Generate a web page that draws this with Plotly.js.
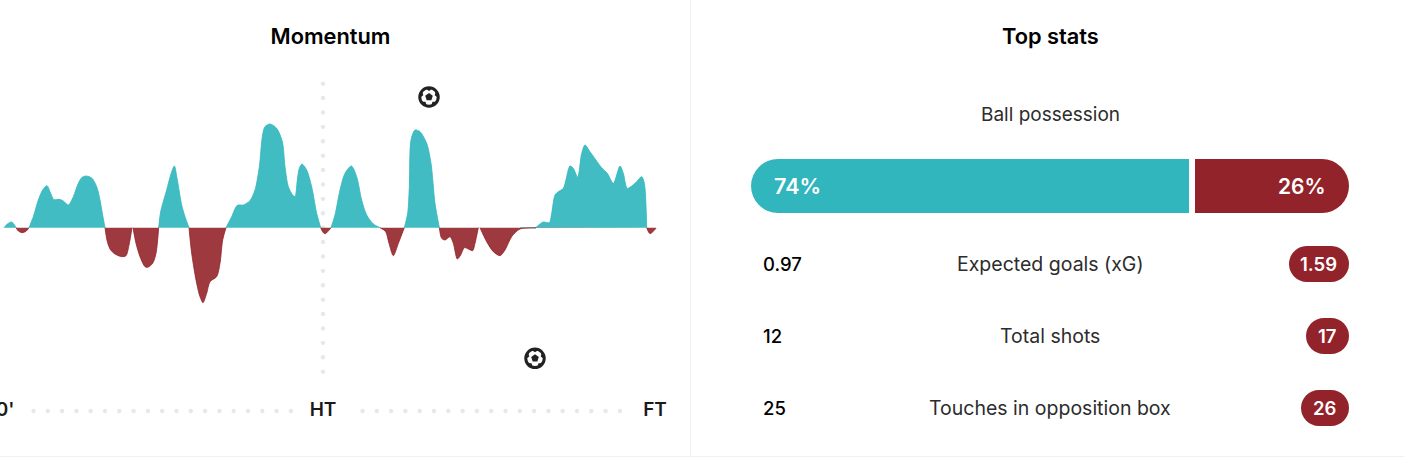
<!DOCTYPE html>
<html><head><meta charset="utf-8">
<script src="https://cdn.plot.ly/plotly-3.0.1.min.js"></script>
<style>html,body{margin:0;padding:0;background:#fff;overflow:hidden}#chart{width:1404px;height:466px}</style>
</head><body><div id="chart"></div>
<script>
// Momentum: timeline position (x) and momentum value (y)
const homeX = [12,22,35,42,48,null,87,100,115,128,141,150,162,178,190,205,220,235,245,258,275,290,300,307,315,null,476,482,500,512,523,532,545,555,567,null,678,695,712,730,750,765,778,787,795,810,830,847,855,865,878,885,892,898,906,920,935,950,962,null,993,1005,1020,1035,1054,1070,1085,1100,1120,1140,null,1213,1223,1228,1233,1245,1260,1280,1293,1305,1318,null,1560,1608,1615,1630,1648,1655,1665,1675,1690,1710,1720,1733,1745,1755,1770,1805,1822,1840,1860,1870,1882,1905,1925,1933,1940];
const homeY = [0,11,17,10,0,null,0,33,83,113,126,108,84,85,80,68,93,133,150,155,149,123,83,43,0,null,0,48,113,158,185,143,68,33,0,null,0,33,67,68,81,113,183,273,303,311,298,258,183,123,98,93,143,178,191,173,123,43,0,null,0,38,113,163,185,153,83,38,11,0,null,0,43,123,263,293,288,253,193,73,0,null,0,1,7,17,15,43,98,108,118,185,178,151,223,248,228,180,163,133,185,163,118,133,153,133,0];
const awayX = [48,55,66,78,87,null,315,322,332,345,365,378,387,396,null,399,408,420,435,443,458,468,476,null,567,575,590,600,609,620,630,650,660,668,678,null,962,970,976,990,993,null,1140,1157,1167,1180,1195,1213,null,1318,1325,1335,1350,1360,1372,1382,1393,1405,1418,1425,1435,null,1440,1460,1480,1500,1515,1535,1560,1608,null,1940,1950,1968];
const awayY = [0,-10,-15,-11,0,null,0,-42,-67,-79,-87,-84,-52,0,null,0,-47,-87,-117,-119,-107,-77,0,null,0,-77,-167,-207,-225,-197,-162,-147,-107,-37,0,null,0,-15,-18,-4,0,null,0,-12,-47,-84,-47,0,null,0,-32,-37,-27,-47,-94,-82,-60,-64,-69,-47,0,null,0,-42,-72,-84,-67,-27,-4,-1,null,0,-18,-2];
const goalX = [1287,1605];
const goalY = [392,-392];
const timeTicks = [15,969,1965];
const timeLabels = ["0'","HT","FT"];
// Top stats
const possession = [74,26];
const statLabels = ["Expected goals (xG)","Total shots","Touches in opposition box"];
const homeStats = ["0.97","12","25"];
const awayStats = ["1.59","17","26"];

const W=1404,H=466,TEAL='#31b6bd',RED='#93232a',FONT='Inter, Lato, sans-serif',INK='#1a1a1a';
const px=x=>x/W, py=y=>1-y/H;
const fmtP=(x,y)=>px(x).toFixed(5)+','+py(y).toFixed(5);
function pill(x0,x1,y0,y1){const r=(y1-y0)/2,k=r*.5523;return 'M'+fmtP(x0+r,y0)+' L'+fmtP(x1-r,y0)+' C'+fmtP(x1-r+k,y0)+' '+fmtP(x1,y0+r-k)+' '+fmtP(x1,y0+r)+' C'+fmtP(x1,y0+r+k)+' '+fmtP(x1-r+k,y1)+' '+fmtP(x1-r,y1)+' L'+fmtP(x0+r,y1)+' C'+fmtP(x0+r-k,y1)+' '+fmtP(x0,y0+r+k)+' '+fmtP(x0,y0+r)+' C'+fmtP(x0,y0+r-k)+' '+fmtP(x0+r-k,y0)+' '+fmtP(x0+r,y0)+' Z';}

// decoration dots along the time axis and at half-time
const dotY=[];for(let i=-10;i<=10;i++)dotY.push(i*43.2);
const dotX=[];
for(let i=0;i<19;i++)dotX.push(100.5+i*42.9);
for(let i=0;i<19;i++)dotX.push(1087.5+i*42.9);

const traces=[
 {x:dotY.map(()=>timeTicks[1]),y:dotY,mode:'markers',marker:{size:4.4,color:'#e8e8e8'},hoverinfo:'skip'},
 {x:dotX,y:dotX.map(()=>-550),mode:'markers',marker:{size:4.4,color:'#e8e8e8'},hoverinfo:'skip'},
 {x:homeX,y:homeY,mode:'lines',fill:'tozeroy',fillcolor:'rgba(49,182,189,0.92)',line:{color:TEAL,width:.8,shape:'spline',smoothing:.8},hoverinfo:'skip'},
 {x:awayX,y:awayY,mode:'lines',fill:'tozeroy',fillcolor:'rgba(147,35,42,0.9)',line:{color:RED,width:.8,shape:'spline',smoothing:.8},hoverinfo:'skip'},
 {x:goalX,y:goalY,mode:'markers',marker:{size:18.5,color:'#fff',line:{color:'#222',width:3}},hoverinfo:'skip'},
 {x:goalX,y:goalY,mode:'markers',marker:{symbol:'pentagon',size:8,color:'#222'},hoverinfo:'skip'},
 {type:'bar',orientation:'h',xaxis:'x2',yaxis:'y2',y:[0.5],x:[possession[0]],width:[1],marker:{color:TEAL,cornerradius:27},hoverinfo:'skip'},
 {type:'bar',orientation:'h',xaxis:'x3',yaxis:'y2',y:[0.5],x:[possession[1]],width:[1],marker:{color:RED,cornerradius:27},hoverinfo:'skip'}
];

const shapes=[
 {type:'line',xref:'paper',yref:'paper',x0:px(690.5),x1:px(690.5),y0:py(0),y1:py(456),line:{color:'#f1f1f1',width:1}},
 {type:'line',xref:'paper',yref:'paper',x0:0,x1:1,y0:py(456.5),y1:py(456.5),line:{color:'#f1f1f1',width:1}}
];
// ball panel notches
goalX.forEach((gx,g)=>{
 const cx=gx/3, cy=227.67-goalY[g]/3;
 for(let k=0;k<5;k++){
  const a=-Math.PI/2+k*2*Math.PI/5, d=0.42;
  const pt=(r,t)=>fmtP(cx+r*Math.cos(t),cy+r*Math.sin(t));
  shapes.push({type:'path',layer:'above',xref:'paper',yref:'paper',path:'M'+pt(9.5,a-d)+' L'+pt(9.5,a+d)+' L'+pt(6,a)+' Z',fillcolor:'#222',line:{width:0}});
 }
});
const rowY=[264,336,408], pillW=[60,43,48];
const ann=[];
const T=(text,x,y,anchor,size,color,weight)=>ann.push({text,xref:'paper',yref:'paper',x:px(x),y:py(y),xanchor:anchor,yanchor:'middle',showarrow:false,font:{family:FONT,size,color,weight}});
T('Top stats',1050,36,'center',21.8,'#000',600);
T('Ball possession',1050,114,'center',19,'#2c2c2c',400);
T(possession[0]+'%',772,186,'left',21.5,'#fff',600);
T(possession[1]+'%',1328,186,'right',21,'#fff',600);
rowY.forEach((y,i)=>{
 T(homeStats[i],761,y,'left',18.5,'#000',500);
 T(statLabels[i],1050,y,'center',19.5,'#2c2c2c',400);
 const w=pillW[i];
 shapes.push({type:'path',xref:'paper',yref:'paper',path:pill(1349-w,1349,y-18,y+18),fillcolor:RED,line:{width:0}});
 T(awayStats[i],1349-w/2-0.5,y,'center',18.5,'#fff',600);
});

const layout={
 width:W,height:H,margin:{l:0,r:0,t:0,b:0},paper_bgcolor:'#fff',plot_bgcolor:'rgba(0,0,0,0)',showlegend:false,barmode:'overlay',
 title:{text:'Momentum',x:330.5/W,xanchor:'center',xref:'paper',y:py(36.5),yref:'container',yanchor:'middle',font:{family:FONT,size:21.8,color:'#000',weight:600}},
 xaxis:{range:[0,W*3],fixedrange:true,showgrid:false,zeroline:false,showline:false,ticks:'',anchor:'free',position:py(396),tickmode:'array',tickvals:timeTicks,ticktext:timeLabels,ticklabeloverflow:'allow',tickfont:{family:FONT,size:19,color:INK,weight:600},ticklabelstandoff:0},
 yaxis:{range:[-715,683],fixedrange:true,visible:false},
 xaxis2:{domain:[px(751),px(1189)],range:[possession[0],0],anchor:'y2',visible:false,fixedrange:true},
 xaxis3:{domain:[px(1195),px(1349)],range:[0,possession[1]],anchor:'y2',visible:false,fixedrange:true},
 yaxis2:{domain:[py(213),py(159)],range:[0,1],anchor:'x2',visible:false,fixedrange:true},
 shapes,annotations:ann
};
Plotly.newPlot('chart',traces,layout,{displayModeBar:false,staticPlot:true});
</script></body></html>
